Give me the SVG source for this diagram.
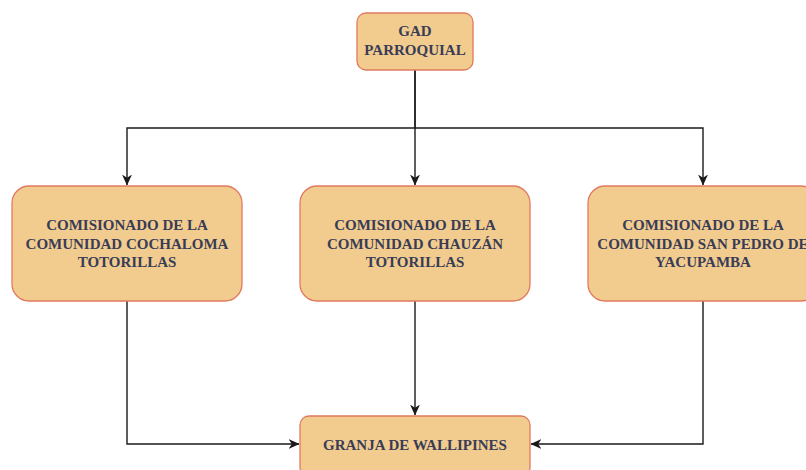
<svg xmlns="http://www.w3.org/2000/svg" width="806" height="470" viewBox="0 0 806 470">
<defs>
<style>
.box{fill:#F2CC8F;stroke:#E07A5F;stroke-width:1.3}
.lbl{font-family:"Liberation Serif","Times New Roman",serif;font-weight:bold;font-size:15px;fill:#393C56;text-anchor:middle}
.edge{fill:none;stroke:#1a1a1a;stroke-width:1.4}
</style>
<marker id="arr" viewBox="0 0 10 10" refX="9.5" refY="5" markerWidth="11" markerHeight="11" markerUnits="userSpaceOnUse" orient="auto">
<path d="M0,0.5 L10,5 L0,9.5 L3,5 Z" fill="#1a1a1a"/>
</marker>
</defs>
<rect width="806" height="470" fill="#ffffff"/>
<g id="connectors">
<path class="edge" d="M415,70 V128 H127 V185" marker-end="url(#arr)"/>
<path class="edge" d="M415,70 V185" marker-end="url(#arr)"/>
<path class="edge" d="M415,128 H703 V185" marker-end="url(#arr)"/>
<path class="edge" d="M127,301 V444 H299" marker-end="url(#arr)"/>
<path class="edge" d="M415,301 V415" marker-end="url(#arr)"/>
<path class="edge" d="M703,301 V444 H531" marker-end="url(#arr)"/>
</g>
<g id="gad">
<rect class="box" x="357" y="13" width="116" height="57" rx="9"/>
<text class="lbl" x="415" y="36">GAD</text>
<text class="lbl" x="415" y="55">PARROQUIAL</text>
</g>
<g id="cochaloma">
<rect class="box" x="12" y="186" width="230" height="115" rx="17"/>
<text class="lbl" x="127" y="230">COMISIONADO DE LA</text>
<text class="lbl" x="127" y="248.5">COMUNIDAD COCHALOMA</text>
<text class="lbl" x="127" y="267">TOTORILLAS</text>
</g>
<g id="chauzan">
<rect class="box" x="300" y="186" width="230" height="115" rx="17"/>
<text class="lbl" x="415" y="230">COMISIONADO DE LA</text>
<text class="lbl" x="415" y="248.5">COMUNIDAD CHAUZÁN</text>
<text class="lbl" x="415" y="267">TOTORILLAS</text>
</g>
<g id="sanpedro">
<rect class="box" x="588" y="186" width="230" height="115" rx="17"/>
<text class="lbl" x="703" y="230">COMISIONADO DE LA</text>
<text class="lbl" x="703" y="248.5">COMUNIDAD SAN PEDRO DE</text>
<text class="lbl" x="703" y="267">YACUPAMBA</text>
</g>
<g id="granja">
<rect class="box" x="300" y="416" width="230" height="60" rx="9"/>
<text class="lbl" x="415" y="450">GRANJA DE WALLIPINES</text>
</g>
</svg>
